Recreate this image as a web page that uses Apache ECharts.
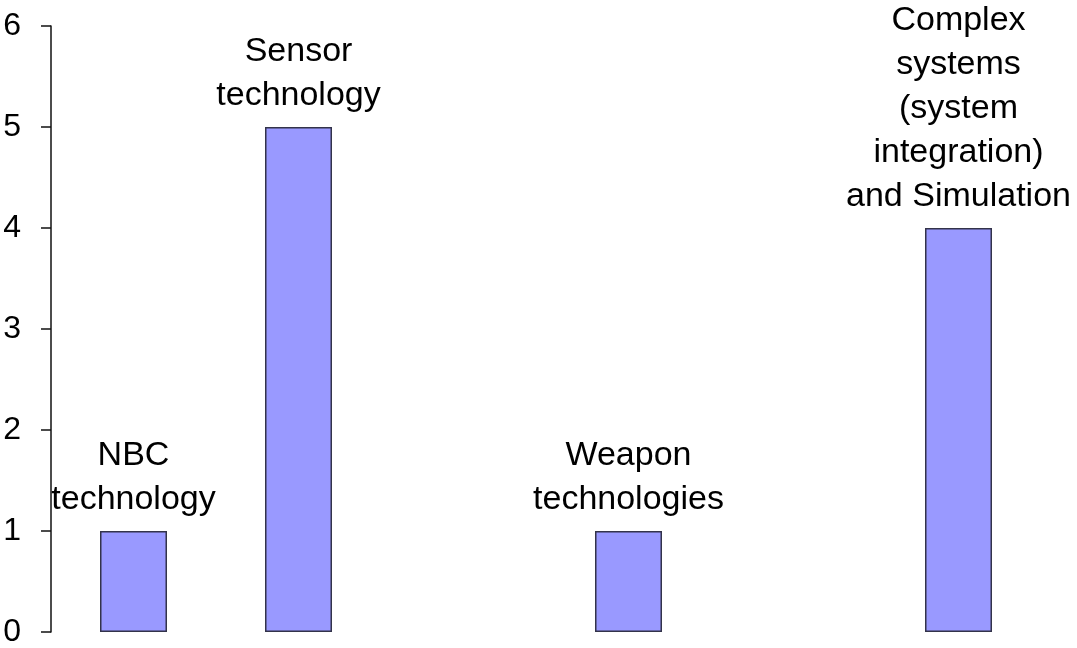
<!DOCTYPE html>
<html>
<head>
<meta charset="utf-8">
<script src="https://cdn.jsdelivr.net/npm/echarts@6/dist/echarts.min.js"></script>
<style>
  html, body { margin: 0; padding: 0; background: #ffffff; }
  #chart { width: 1077px; height: 648px; }
</style>
</head>
<body>
<div id="chart"></div>
<script>
// Technology areas (blank slots keep the spacing between groups)
const categories = [
  'NBC\ntechnology',
  'Sensor\ntechnology',
  '',
  'Weapon\ntechnologies',
  '',
  'Complex\nsystems\n(system\nintegration)\nand Simulation'
];
const counts = [1, 5, null, 1, null, 4];
const yTicks = [0, 1, 2, 3, 4, 5, 6];

const chart = echarts.init(document.getElementById('chart'), null, { renderer: 'canvas' });

const font = '"Liberation Sans", Arial, sans-serif';

chart.setOption({
  animation: false,
  backgroundColor: '#ffffff',
  grid: { left: 51, right: 36, top: 26, bottom: 12, containLabel: false },
  xAxis: {
    type: 'category',
    data: categories,
    axisLine: { show: false },
    axisTick: { show: false },
    axisLabel: { show: false },
    splitLine: { show: false }
  },
  yAxis: {
    type: 'value',
    min: yTicks[0],
    max: yTicks[yTicks.length - 1],
    interval: 1,
    axisLine: { show: true, lineStyle: { color: '#111', width: 1.5 } },
    axisTick: { show: true, inside: false, length: 10, lineStyle: { color: '#111', width: 1.5 } },
    axisLabel: {
      margin: 30,
      color: '#000',
      fontFamily: font,
      fontSize: 32
    },
    splitLine: { show: false }
  },
  series: [{
    type: 'bar',
    data: counts,
    barWidth: 67,
    itemStyle: {
      color: '#9999ff',
      borderColor: '#33334a',
      borderWidth: 1.5
    },
    label: {
      show: true,
      position: 'top',
      distance: 9,
      formatter: '{b}',
      color: '#000',
      fontFamily: font,
      fontSize: 34,
      lineHeight: 44,
      align: 'center'
    }
  }]
});
</script>
</body>
</html>
